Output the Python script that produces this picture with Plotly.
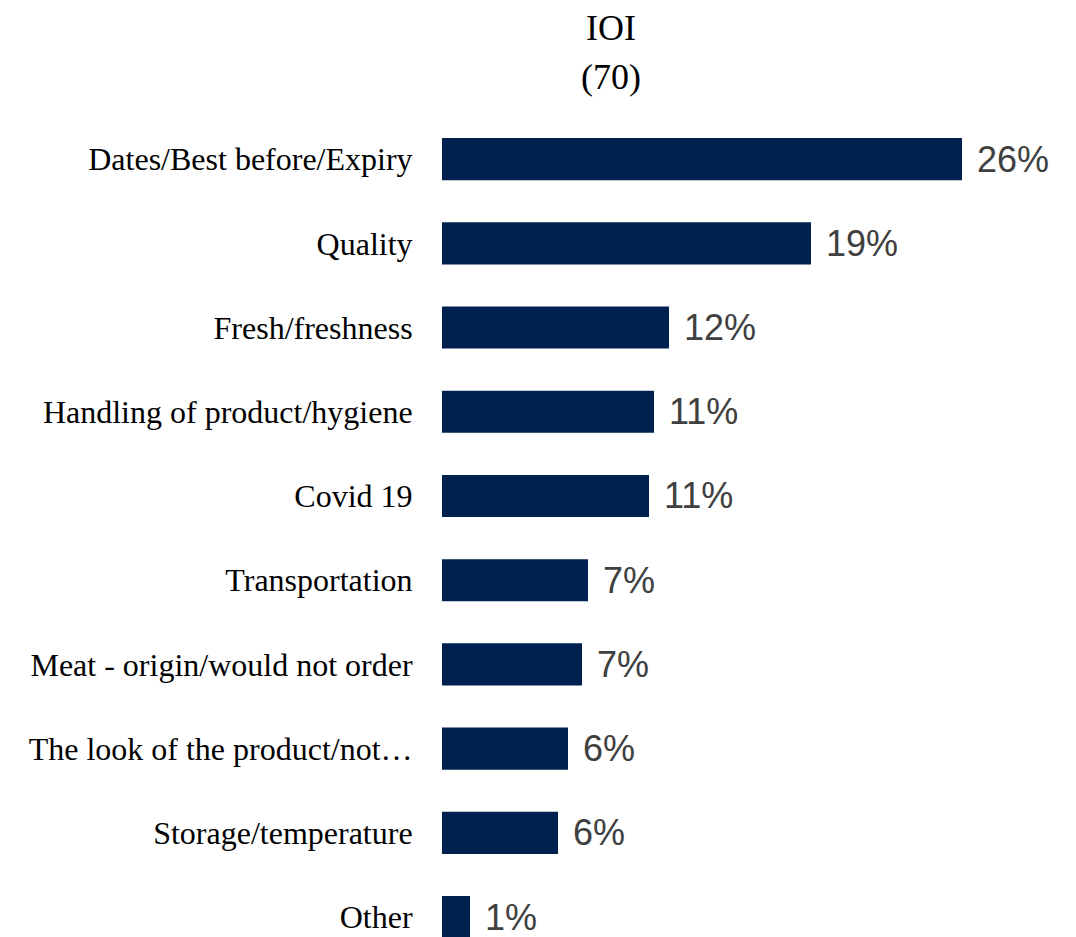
import plotly.graph_objects as go

categories = [
    "Dates/Best before/Expiry",
    "Quality",
    "Fresh/freshness",
    "Handling of product/hygiene",
    "Covid 19",
    "Transportation",
    "Meat - origin/would not order",
    "The look of the product/not…",
    "Storage/temperature",
    "Other",
]
values = [26.0, 18.45, 11.35, 10.6, 10.35, 7.3, 7.0, 6.3, 5.8, 1.4]
labels = ["26%", "19%", "12%", "11%", "11%", "7%", "7%", "6%", "6%", "1%"]
title_line1 = "IOI"
title_line2 = "(70)"

SERIF = "Liberation Serif, Times New Roman, serif"
SANS = "Liberation Sans, Arial, sans-serif"

fig = go.Figure(
    go.Bar(
        x=values,
        y=categories,
        orientation="h",
        marker=dict(color="#002050", line=dict(width=0)),
        width=0.5,
        hoverinfo="skip",
    )
)

for c, v, t in zip(categories, values, labels):
    fig.add_annotation(
        x=v, y=c, text=t, showarrow=False, xanchor="left", yanchor="middle",
        xshift=13, font=dict(family=SANS, size=36, color="#404040"),
    )

fig.add_annotation(
    x=0.2752, xref="paper", y=1, yref="paper", text=title_line1, showarrow=False,
    xanchor="center", yanchor="middle", yshift=89,
    font=dict(family=SERIF, size=36, color="black"),
)
fig.add_annotation(
    x=0.2752, xref="paper", y=1, yref="paper", text=title_line2, showarrow=False,
    xanchor="center", yanchor="middle", yshift=40,
    font=dict(family=SERIF, size=36, color="black"),
)

fig.update_layout(
    width=1076,
    height=937,
    margin=dict(l=434, r=28, t=109, b=8),
    plot_bgcolor="white",
    paper_bgcolor="white",
    showlegend=False,
    xaxis=dict(range=[0, 30.7], visible=False, fixedrange=True),
    yaxis=dict(
        range=[9.237, -0.5],
        showgrid=False, zeroline=False, showline=False,
        ticks="outside", ticklen=22, tickcolor="rgba(0,0,0,0)",
        tickfont=dict(family=SERIF, size=32, color="black"),
    ),
)

fig.write_html("out.html")
